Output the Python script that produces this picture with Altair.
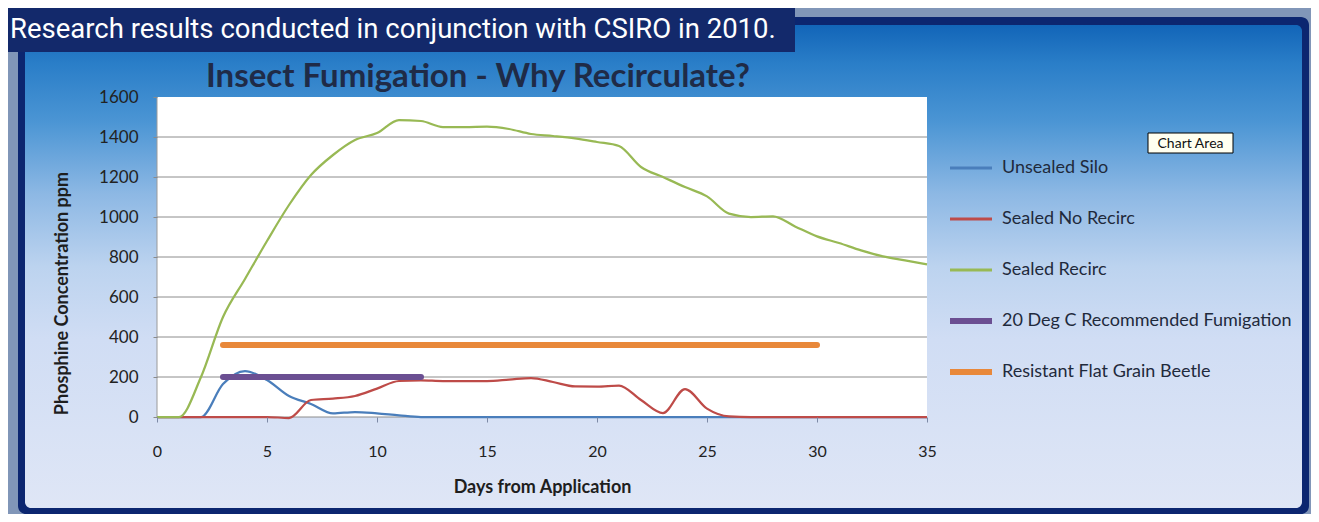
import altair as alt
import pandas as pd

# ---------------- data ----------------
days = list(range(36))
unsealed_silo = [0, 0, 0, 165, 230, 185, 105, 65, 18, 25, 18, 8, 0,
                 0, 0, 0, 0, 0, 0, 0, 0, 0, 0, 0, 0, 0, 0, 0, 0, 0, 0, 0, 0, 0, 0, 0]
sealed_no_recirc = [0, 0, 0, 0, 0, 0, -5, 85, 92, 105, 142, 180, 183,
                    180, 180, 180, 187, 195, 175, 153, 152, 157, 85, 20, 140, 42,
                    3, 0, 0, 0, 0, 0, 0, 0, 0, 0]
sealed_recirc = [0, 0, 200, 500, 690, 880, 1060, 1210, 1310, 1385, 1420, 1485,
                 1480, 1450, 1450, 1452, 1440, 1415, 1405, 1393, 1375, 1355, 1250,
                 1200, 1150, 1103, 1017, 1000, 1003, 953, 903, 870, 833, 803, 783, 763]
fumigation_days = [3, 12]
fumigation_ppm = [200, 200]
beetle_days = [3, 30]
beetle_ppm = [360, 360]

series_names = ["Unsealed Silo", "Sealed No Recirc", "Sealed Recirc",
                "20 Deg C Recommended Fumigation", "Resistant Flat Grain Beetle"]
series_colors = ["#4a7ebb", "#be4b48", "#98b954", "#6b4f92", "#e8883a"]
x_ticks = [0, 5, 10, 15, 20, 25, 30, 35]
y_ticks = [0, 200, 400, 600, 800, 1000, 1200, 1400, 1600]
grid_values = [0, 200, 400, 600, 800, 1000, 1200, 1400]

rows = []
for name, xs, ys in [
    (series_names[0], days, unsealed_silo),
    (series_names[1], days, sealed_no_recirc),
    (series_names[2], days, sealed_recirc),
    (series_names[3], fumigation_days, fumigation_ppm),
    (series_names[4], beetle_days, beetle_ppm),
]:
    for d, v in zip(xs, ys):
        rows.append({"series": name, "day": d, "ppm": v})
df = pd.DataFrame(rows)
thin_df = df[df["series"].isin(series_names[:3])]
thick_df = df[df["series"].isin(series_names[3:])]
grid_df = pd.DataFrame({"ppm": grid_values})
one = pd.DataFrame({"k": [0]})

# ---------------- scales / axes ----------------
W, H = 770, 320
x_scale = alt.Scale(domain=[0, 35], nice=False, zero=False)
y_scale = alt.Scale(domain=[0, 1600], nice=False)
x_axis = alt.Axis(values=x_ticks, title="Days from Application", grid=False, domain=False,
                  ticks=True, tickSize=5, tickColor="#7d8aa6", labelFont="Lato",
                  labelFontSize=16, labelColor="#222222", labelPadding=21,
                  titleFont="Lato", titleFontSize=18, titleFontWeight="bold",
                  titleColor="#1e1e1e", titlePadding=19, labelFlush=False, zindex=1)
y_axis = alt.Axis(values=y_ticks, format="d", title="Phosphine Concentration ppm", grid=False,
                  domain=False, ticks=True, tickSize=4, tickColor="#8a8a8a", labelFont="Lato",
                  labelFontSize=17, labelColor="#222222", labelPadding=15,
                  titleFont="Lato", titleFontSize=18, titleFontWeight="bold",
                  titleColor="#1e1e1e", titlePadding=27, titleY=196, labelFlush=False, zindex=1)

thick_test = "indexof(['" + "','".join(series_names[3:]) + "'], datum.value) >= 0 ? 6 : 3"
legend = alt.Legend(title=None, symbolStrokeWidth=alt.ExprRef(thick_test))
color = alt.Color("series:N", scale=alt.Scale(domain=series_names, range=series_colors),
                  legend=legend)


def box(x1, x2, y1, y2, **kw):
    return alt.Chart(one).mark_rect(**kw).encode(
        x=alt.value(x1), x2=alt.value(x2), y=alt.value(y1), y2=alt.value(y2))


def label(x, y, text, **kw):
    return alt.Chart(one).mark_text(text=text, **kw).encode(x=alt.value(x), y=alt.value(y))


gradient = alt.LinearGradient(
    gradient="linear", x1=0, x2=0, y1=0, y2=1,
    stops=[alt.GradientStop(offset=0.0, color="#1265b8"),
           alt.GradientStop(offset=0.08, color="#2a7ec8"),
           alt.GradientStop(offset=0.2, color="#4b95d4"),
           alt.GradientStop(offset=0.35, color="#8db8e4"),
           alt.GradientStop(offset=0.5, color="#bcd3ef"),
           alt.GradientStop(offset=0.65, color="#d0ddf4"),
           alt.GradientStop(offset=1.0, color="#dfe6f6")])

bg_outer = box(-149, 1154, -89, 417, color="#8196b8")
navy = box(-139, 1152, -80, 417, color="#0c2670", cornerRadius=8)
inner = box(-132, 1145, -72, 411, color=gradient, cornerRadius=6)
banner = box(-149, 638, -89, -45, color="#13296b")
banner_text = label(-147, -67, "Research results conducted in conjunction with CSIRO in 2010.",
                    font="Roboto", fontSize=27.5, color="white", align="left", baseline="middle")
title_text = label(321, -20, "Insect Fumigation - Why Recirculate?", font="Lato", fontSize=33,
                   fontWeight="bold", color="#1f2b47", align="center", baseline="middle")
tip_box = box(991, 1076, 36, 56, color="#fffff0", stroke="#000000", strokeWidth=1)
tip_text = label(1033.5, 46.5, "Chart Area", font="Lato", fontSize=14, color="#111111",
                 align="center", baseline="middle")
plot_bg = box(0, W, 0, H, color="white")

grid = alt.Chart(grid_df).mark_rule(color="#8c8c8c", strokeWidth=1).encode(
    y=alt.Y("ppm:Q", scale=y_scale, axis=y_axis))
left_line = alt.Chart(one).mark_rule(color="#9a9a9a", strokeWidth=1).encode(
    x=alt.datum(0, scale=x_scale), y=alt.value(0), y2=alt.value(H))

thin = alt.Chart(thin_df).mark_line(interpolate="monotone", strokeWidth=2.25).encode(
    x=alt.X("day:Q", scale=x_scale, axis=x_axis),
    y=alt.Y("ppm:Q", scale=y_scale, axis=y_axis),
    color=color, detail="series:N")
thick = alt.Chart(thick_df).mark_line(strokeCap="round", strokeWidth=6).encode(
    x=alt.X("day:Q", scale=x_scale, axis=x_axis),
    y=alt.Y("ppm:Q", scale=y_scale, axis=y_axis),
    color=color, detail="series:N")

chart = alt.layer(
    bg_outer, navy, inner, banner, banner_text, title_text, tip_box, tip_text,
    plot_bg, grid, left_line, thin, thick
).properties(
    width=W, height=H,
    autosize=alt.AutoSizeParams(type="none"),
    padding={"left": 149, "top": 89, "right": 384, "bottom": 97},
).configure_view(strokeWidth=0).configure_legend(
    orient="none", legendX=805, legendY=62, padding=0, symbolType="stroke",
    symbolSize=1764, rowPadding=27, gridAlign="all", labelFont="Lato", labelFontSize=18,
    labelColor="#1f2a3c", labelOffset=22, labelLimit=500,
)

chart.save("out.html", embed_options={"renderer": "svg", "actions": False})
